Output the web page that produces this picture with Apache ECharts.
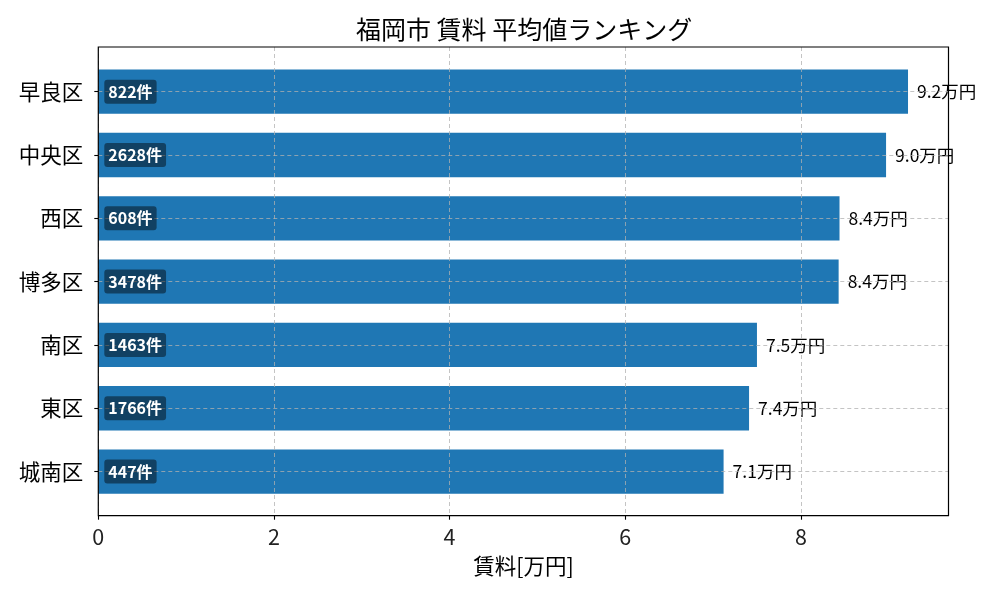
<!DOCTYPE html>
<html>
<head>
<meta charset="utf-8">
<script src="https://cdn.jsdelivr.net/npm/echarts@6/dist/echarts.min.js"></script>
<style>
html,body{margin:0;padding:0;background:#fff;}
#chart{width:1000px;height:600px;}
</style>
</head>
<body>
<div id="chart"></div>
<script>
const wards = ['早良区','中央区','西区','博多区','南区','東区','城南区'];
const avgRent = [9.22, 8.97, 8.44, 8.43, 7.50, 7.41, 7.12];
const counts = [822, 2628, 608, 3478, 1463, 1766, 447];
const xTicks = [0, 2, 4, 6, 8];

const FONT = '"Noto Sans CJK JP", "Noto Sans", sans-serif';
const xMax = Math.max(...avgRent) * 1.05;
const gridColor = 'rgba(176,176,176,0.75)';

const chart = echarts.init(document.getElementById('chart'));
chart.setOption({
  animation: false,
  textStyle: { fontFamily: FONT },
  title: {
    text: '福岡市 賃料 平均値ランキング',
    left: 356,
    top: 17,
    padding: 0,
    textStyle: { fontFamily: FONT, fontSize: 25, fontWeight: 'normal', color: '#000' }
  },
  grid: [
    { left: 98.3, right: 51.5, top: 60, bottom: 96.8 },
    { left: 98.3, right: 51.5, top: 47, bottom: 84.3, show: true, z: 10, borderColor: '#000', borderWidth: 1.2, backgroundColor: 'transparent' },
    { left: 98.3, right: 51.5, top: 91.67, bottom: 128.47 }
  ],
  xAxis: [
    { gridIndex: 0, type: 'value', min: 0, max: xMax, show: false },
    {
      gridIndex: 1, type: 'value', min: 0, max: xMax, interval: 2, z: 5,
      name: '賃料[万円]', nameLocation: 'middle', nameGap: 39,
      nameTextStyle: { fontFamily: FONT, fontSize: 21.5, color: '#000' },
      axisLine: { show: false },
      axisTick: { show: true, length: 4, customValues: xTicks, lineStyle: { color: '#000', width: 1.1 } },
      axisLabel: { fontFamily: FONT, fontSize: 21.5, color: '#222', margin: 10, customValues: xTicks },
      splitLine: { show: true, lineStyle: { color: gridColor, type: [4, 3], width: 1 } }
    },
    { gridIndex: 2, type: 'value', min: 0, max: xMax, show: false }
  ],
  yAxis: [
    {
      gridIndex: 0, type: 'category', data: wards, inverse: true,
      axisLine: { show: false },
      axisTick: { show: true, alignWithLabel: true, length: 4, lineStyle: { color: '#000', width: 1.1 } },
      axisLabel: { fontFamily: FONT, fontSize: 21.5, color: '#000', margin: 15 },
      splitLine: { show: false }
    },
    { gridIndex: 1, type: 'value', min: 0, max: 1, show: false },
    {
      gridIndex: 2, type: 'category', data: wards, inverse: true, boundaryGap: false, z: 5,
      axisLine: { show: false }, axisTick: { show: false }, axisLabel: { show: false },
      splitLine: { show: true, lineStyle: { color: gridColor, type: [4, 3], width: 1 } }
    }
  ],
  series: [
    {
      type: 'bar', xAxisIndex: 0, yAxisIndex: 0, data: avgRent, barWidth: '70%',
      itemStyle: { color: '#1f77b4' },
      label: {
        show: true, position: 'right', distance: 9,
        fontFamily: FONT, fontSize: 17.5, color: '#000',
        formatter: p => p.value.toFixed(1) + '万円'
      },
      z: 2
    },
    {
      type: 'bar', xAxisIndex: 0, yAxisIndex: 0, data: avgRent, barWidth: '70%', barGap: '-100%',
      itemStyle: { color: 'transparent' },
      label: {
        show: true, position: 'insideLeft', distance: 6,
        fontFamily: FONT, fontSize: 16, fontWeight: 'bold', color: '#fff',
        backgroundColor: 'rgba(0,0,0,0.45)', borderRadius: 3, padding: [2, 4, 1, 4], lineHeight: 21,
        formatter: p => counts[p.dataIndex] + '件'
      },
      z: 6
    }
  ]
});
</script>
</body>
</html>
